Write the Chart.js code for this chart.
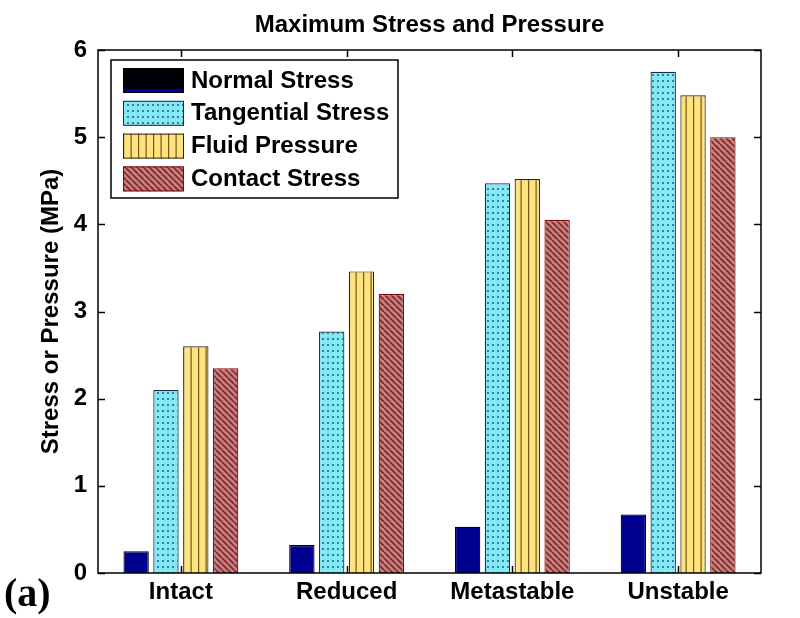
<!DOCTYPE html>
<html>
<head>
<meta charset="utf-8">
<script src="https://cdn.jsdelivr.net/npm/chart.js@4"></script>
<style>
  html, body { margin: 0; padding: 0; background: #fff; }
  #wrap { width: 800px; height: 618px; }
</style>
</head>
<body>
<div id="wrap"><canvas id="stressChart" width="800" height="618"></canvas></div>
<script>
// ── Data ───────────────────────────────────────────────
const categories = ["Intact", "Reduced", "Metastable", "Unstable"];
const seriesNames = ["Normal Stress", "Tangential Stress", "Fluid Pressure", "Contact Stress"];
const normalStress = [0.25, 0.32, 0.53, 0.67];
const tangentialStress = [2.10, 2.77, 4.47, 5.75];
const fluidPressure = [2.60, 3.46, 4.52, 5.48];
const contactStress = [2.35, 3.20, 4.05, 5.00];
const yTicks = [0, 1, 2, 3, 4, 5, 6];

const FONT = "'Liberation Sans', Arial, Helvetica, sans-serif";

// ── Hatch patterns ─────────────────────────────────────
function makePattern(w, h, paint) {
    const c = document.createElement("canvas");
    c.width = w;
    c.height = h;
    paint(c.getContext("2d"), w, h);
    return c.getContext("2d").createPattern(c, "repeat");
}

const dotted = makePattern(5, 6, (g, w, h) => {
    g.fillStyle = "#84e8f6";
    g.fillRect(0, 0, w, h);
    g.fillStyle = "#2a8598";
    g.fillRect(2, 2, 2, 2);
});

const striped = makePattern(15, 6, (g, w, h) => {
    g.fillStyle = "#ffe27c";
    g.fillRect(0, 0, w, h);
    g.fillStyle = "#6e5a20";
    g.fillRect(3, 0, 1.2, h);
    g.fillRect(10.5, 0, 1.2, h);
});

const hatched = makePattern(6, 6, (g, w, h) => {
    g.fillStyle = "#c98080";
    g.fillRect(0, 0, w, h);
    g.strokeStyle = "#7c2a2a";
    g.lineWidth = 1.7;
    g.beginPath();
    for (let k = -1; k <= 1; k++) {
        g.moveTo(k * w, 0);
        g.lineTo(k * w + w, h);
    }
    g.stroke();
});

const fills = ["#000090", dotted, striped, hatched];
const edges = ["#000000", "#1a2a40", "#2a2410", "#7a0a0a"];
const values = [normalStress, tangentialStress, fluidPressure, contactStress];

// ── Frame, ticks, title, legend ────────────────────────
const framePlugin = {
    id: "matlabFrame",
    afterDraw(chart) {
        const { ctx, chartArea: a, scales } = chart;
        const x = scales.x, y = scales.y;
        ctx.save();
        ctx.strokeStyle = "#000";
        ctx.lineWidth = 1.5;
        ctx.strokeRect(a.left, a.top, a.right - a.left, a.bottom - a.top);

        ctx.beginPath();
        yTicks.forEach((v) => {
            const py = Math.round(y.getPixelForValue(v)) + 0.5;
            ctx.moveTo(a.left, py); ctx.lineTo(a.left + 7, py);
            ctx.moveTo(a.right, py); ctx.lineTo(a.right - 7, py);
        });
        categories.forEach((c, i) => {
            const px = Math.round(x.getPixelForValue(i)) + 0.5;
            ctx.moveTo(px, a.top); ctx.lineTo(px, a.top + 7);
            ctx.moveTo(px, a.bottom); ctx.lineTo(px, a.bottom - 7);
        });
        ctx.stroke();

        // title
        ctx.fillStyle = "#000";
        ctx.font = "bold 24px " + FONT;
        ctx.textAlign = "center";
        ctx.textBaseline = "alphabetic";
        ctx.fillText("Maximum Stress and Pressure", (a.left + a.right) / 2, 32);

        // panel tag
        ctx.font = "bold 40px 'Liberation Serif', 'Times New Roman', serif";
        ctx.textAlign = "left";
        ctx.fillText("(a)", 4, 606);

        // legend
        const lx = 111, ly = 60, lw = 287, lh = 138;
        ctx.fillStyle = "#fff";
        ctx.fillRect(lx, ly, lw, lh);
        ctx.strokeStyle = "#000";
        ctx.lineWidth = 1.5;
        ctx.strokeRect(lx, ly, lw, lh);
        ctx.font = "bold 24px " + FONT;
        ctx.textBaseline = "middle";
        seriesNames.forEach((name, i) => {
            const sy = 68 + i * 32.8;
            ctx.fillStyle = i === 0 ? "#000008" : fills[i];
            ctx.fillRect(123, sy, 61, 25);
            if (i === 0) {
                ctx.fillStyle = "#0000a0";
                ctx.fillRect(123, sy + 21, 61, 3);
            }
            ctx.strokeStyle = edges[i];
            ctx.lineWidth = 1;
            ctx.strokeRect(123.5, sy + 0.5, 60, 24);
            ctx.fillStyle = "#000";
            ctx.fillText(name, 191, sy + 13);
        });
        ctx.restore();
    }
};

new Chart(document.getElementById("stressChart"), {
    type: "bar",
    data: {
        labels: categories,
        datasets: seriesNames.map((name, i) => ({
            label: name,
            data: values[i],
            backgroundColor: fills[i],
            borderColor: edges[i],
            borderWidth: 1.2,
            categoryPercentage: 0.72,
            barPercentage: 0.85
        }))
    },
    options: {
        responsive: false,
        animation: false,
        layout: {
            padding: { left: 0, top: 50, right: 39, bottom: 0 }
        },
        plugins: {
            legend: { display: false },
            tooltip: { enabled: false }
        },
        scales: {
            x: {
                grid: { display: false, drawTicks: false },
                border: { display: false },
                ticks: {
                    color: "#000",
                    padding: 5,
                    font: { family: FONT, size: 24, weight: "bold" }
                },
                afterFit(scale) { scale.height = 45; }
            },
            y: {
                min: 0,
                max: 6,
                grid: { display: false, drawTicks: false },
                border: { display: false },
                afterBuildTicks(scale) {
                    scale.ticks = yTicks.map((v) => ({ value: v }));
                },
                ticks: {
                    color: "#000",
                    padding: 11,
                    font: { family: FONT, size: 24, weight: "bold" }
                },
                title: {
                    display: true,
                    text: "Stress or Pressure (MPa)",
                    color: "#000",
                    padding: { top: 37, bottom: 0 },
                    font: { family: FONT, size: 24, weight: "bold" }
                },
                afterFit(scale) { scale.width = 98; }
            }
        }
    },
    plugins: [framePlugin]
});
</script>
</body>
</html>
